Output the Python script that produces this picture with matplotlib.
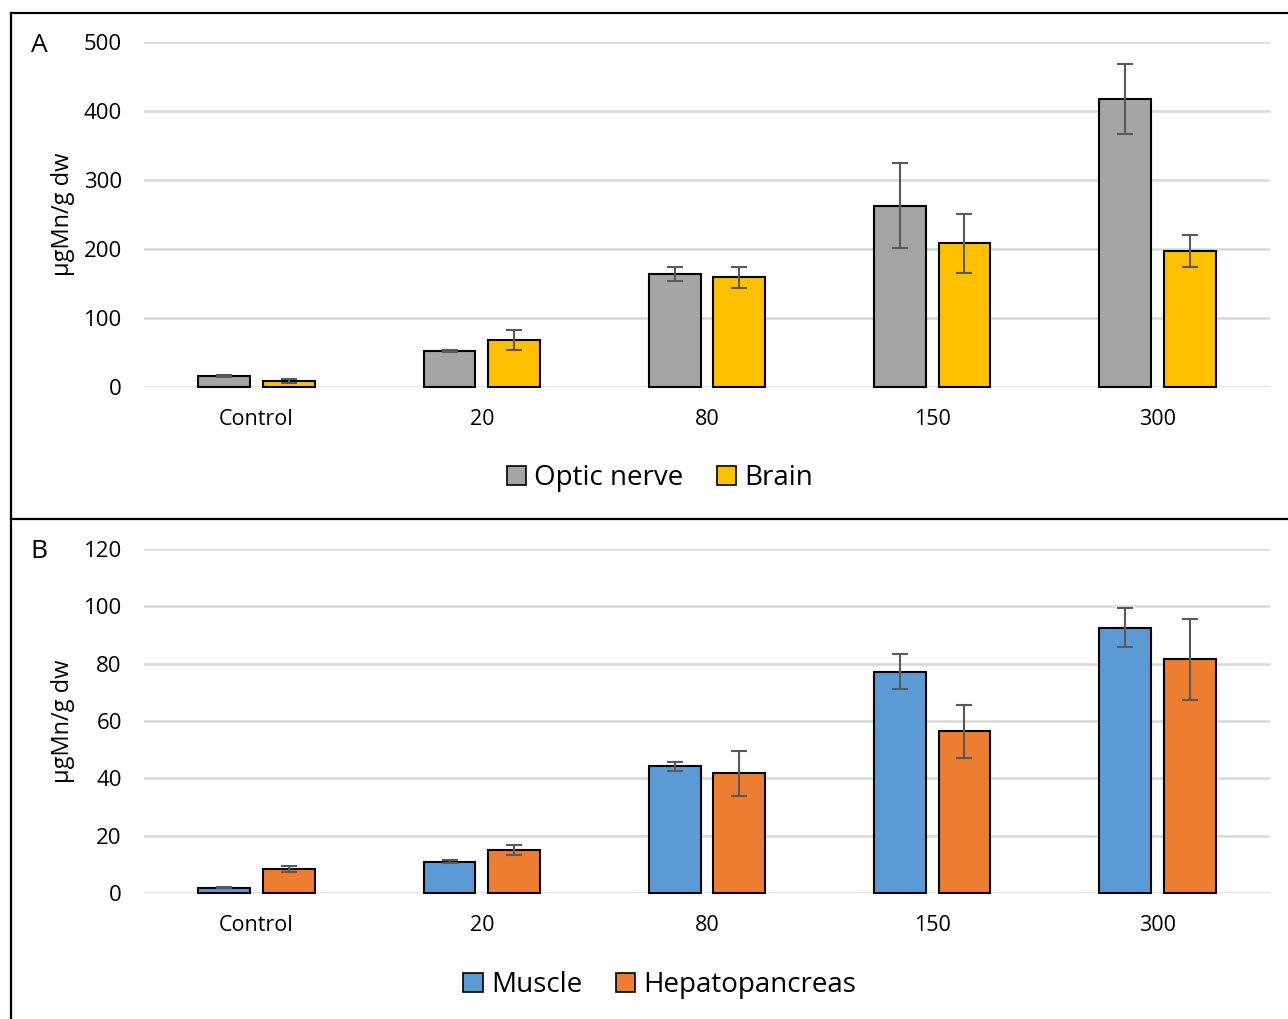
import matplotlib
matplotlib.use("Agg")
import matplotlib.pyplot as plt
import numpy as np
from matplotlib.patches import Rectangle
from matplotlib.lines import Line2D

categories = ["Control", "20", "80", "150", "300"]

optic = [16, 52, 164, 263, 417]
optic_err = [2, 2, 10, 62, 51]
brain = [9, 68, 159, 208, 197]
brain_err = [3, 14, 15, 43, 23]

muscle = [1.9, 10.9, 44.2, 77.2, 92.6]
muscle_err = [0.3, 0.6, 1.6, 6.1, 6.8]
hepato = [8.4, 15.0, 41.7, 56.4, 81.5]
hepato_err = [1.1, 1.9, 7.8, 9.3, 14.2]

plt.rcParams['font.family'] = ['Open Sans', 'DejaVu Sans']

W, H = 1288, 1019
fig = plt.figure(figsize=(W / 100, H / 100), dpi=100)

def fx(px):
    return px / W

def fy(py):
    return 1 - py / H

def make_axes(top, bottom):
    return fig.add_axes([fx(144), fy(bottom), fx(1270) - fx(144), fy(top) - fy(bottom)])

axA = make_axes(42, 387)
axB = make_axes(549, 893)

x = np.arange(len(categories))
bw = 0.23
off = 0.143

def draw(ax, s1, e1, s2, e2, c1, c2, ymax, step, names, legend_y):
    ax.set_xlim(-0.5, len(categories) - 0.5)
    ax.set_ylim(0, ymax)
    ax.set_yticks(np.arange(0, ymax + step / 2, step))
    ax.yaxis.grid(True, color='#d9d9d9', lw=1.8)
    ax.set_axisbelow(True)
    for sp in ax.spines.values():
        sp.set_visible(False)
    ax.tick_params(axis='both', length=0, colors='black')
    ax.tick_params(axis='y', pad=16, labelsize=16)
    ax.tick_params(axis='x', pad=16, labelsize=15.5)
    ax.set_xticks(x)
    ax.set_xticklabels(categories)
    ekw = dict(ecolor='#595959', elinewidth=1.5, capsize=6, capthick=1.5)
    ax.bar(x - off, s1, bw, color=c1, edgecolor='black', lw=1.5, yerr=e1, error_kw=ekw, clip_on=False, zorder=3)
    ax.bar(x + off, s2, bw, color=c2, edgecolor='black', lw=1.5, yerr=e2, error_kw=ekw, clip_on=False, zorder=3)
    ax.set_ylabel("µgMn/g dw", fontsize=17, labelpad=6)
    handles = [Rectangle((0, 0), 1, 1, facecolor=c1, edgecolor='black', lw=1.2),
               Rectangle((0, 0), 1, 1, facecolor=c2, edgecolor='black', lw=1.2)]
    fig.legend(handles, names, loc='center', bbox_to_anchor=(fx(660), fy(legend_y)),
               ncol=2, frameon=False, fontsize=20, handlelength=0.7, handleheight=0.7,
               handletextpad=0.3, columnspacing=1.2)

draw(axA, optic, optic_err, brain, brain_err, '#A5A5A5', '#FFC000', 500, 100,
     ["Optic nerve", "Brain"], 478)
draw(axB, muscle, muscle_err, hepato, hepato_err, '#5B9BD5', '#ED7D31', 120, 20,
     ["Muscle", "Hepatopancreas"], 985)

fig.text(fx(39), fy(45), "A", fontsize=19, ha='center', va='center')
fig.text(fx(39), fy(552), "B", fontsize=19, ha='center', va='center')

# panel borders
for coords in [([fx(11), fx(11)], [fy(13), 0]),
               ([fx(11), 1], [fy(13), fy(13)]),
               ([fx(11), 1], [fy(519), fy(519)])]:
    fig.add_artist(Line2D(coords[0], coords[1], color='black', lw=1.6))

fig.savefig("out.png", dpi=100)
